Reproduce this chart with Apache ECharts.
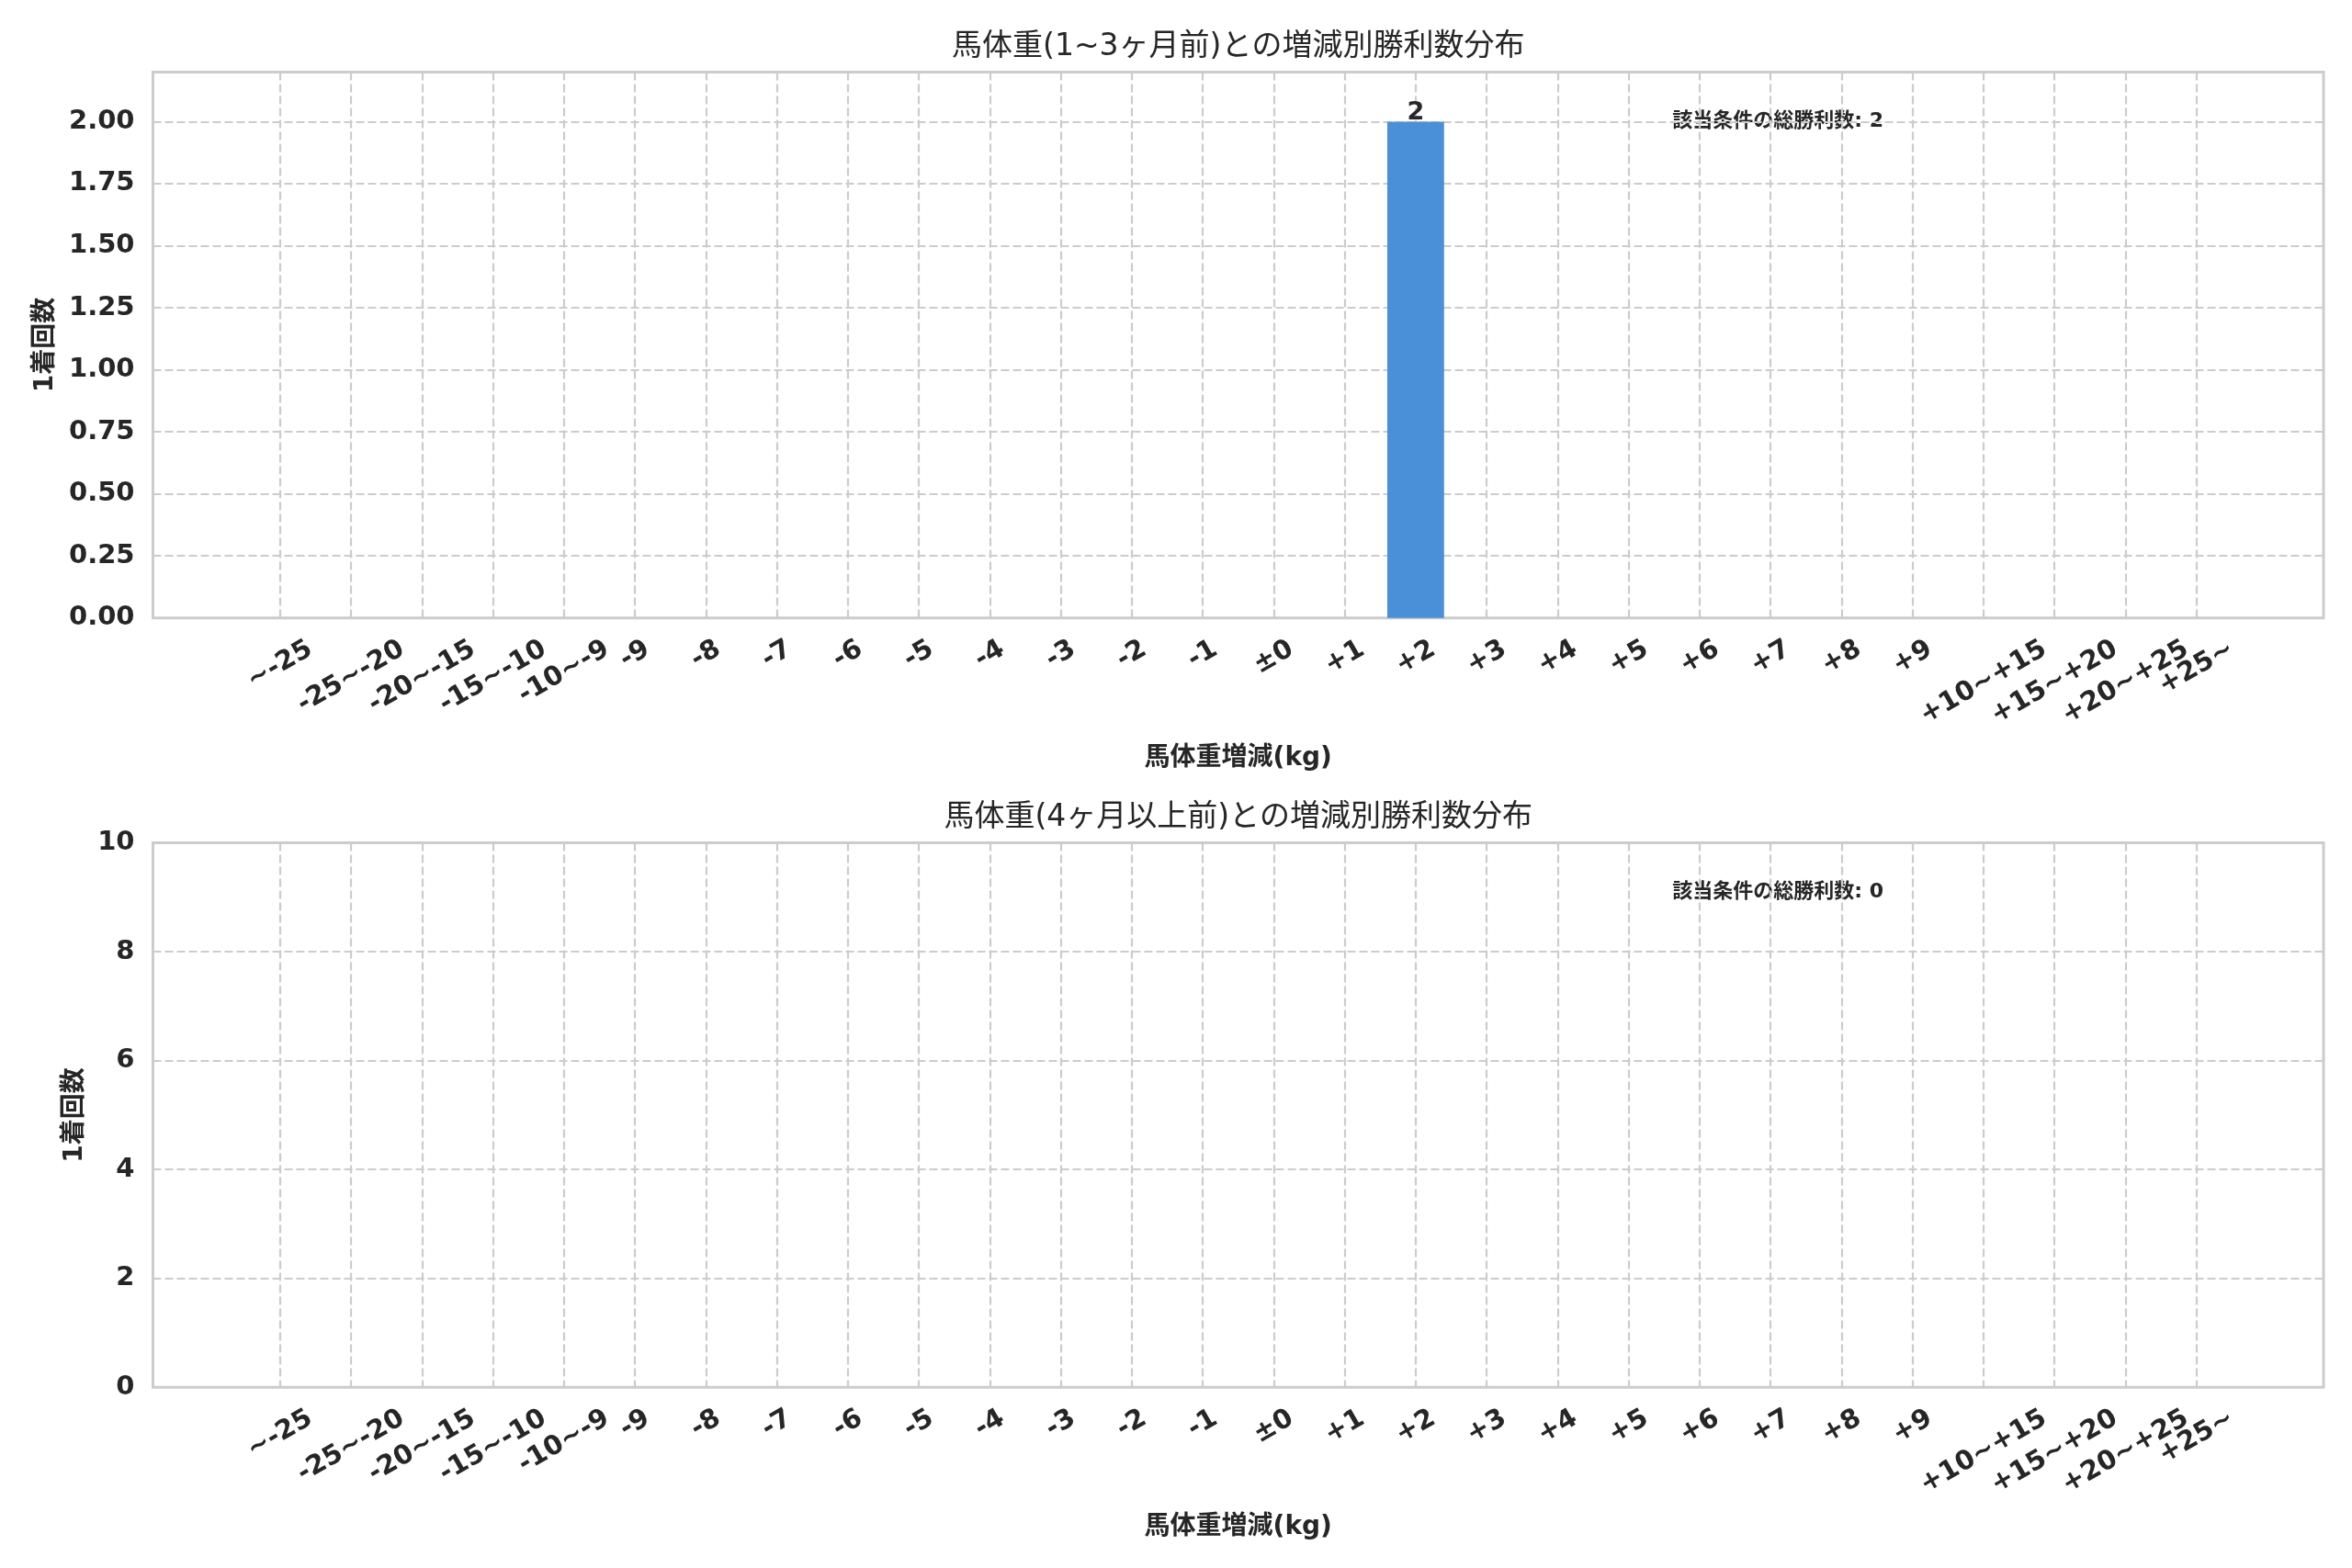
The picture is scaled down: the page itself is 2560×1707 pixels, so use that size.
<!DOCTYPE html>
<html><head><meta charset="utf-8">
<script src="https://cdn.jsdelivr.net/npm/echarts@6/dist/echarts.min.js"></script>
<style>html,body{margin:0;padding:0;background:#fff}#c{width:2560px;height:1707px}</style>
</head><body><div id="c"></div><script>
// ---- data ----
const categories = ['~-25','-25~-20','-20~-15','-15~-10','-10~-9','-9','-8','-7','-6','-5','-4','-3','-2','-1','±0','+1','+2','+3','+4','+5','+6','+7','+8','+9','+10~+15','+15~+20','+20~+25','+25~'];
const winsShort = [0,0,0,0,0,0,0,0,0,0,0,0,0,0,0,0,2,0,0,0,0,0,0,0,0,0,0,0];
const winsLong  = [0,0,0,0,0,0,0,0,0,0,0,0,0,0,0,0,0,0,0,0,0,0,0,0,0,0,0,0];
const titles = ['馬体重(1~3ヶ月前)との増減別勝利数分布', '馬体重(4ヶ月以上前)との増減別勝利数分布'];
const yLabel = '1着回数';
const xLabel = '馬体重増減(kg)';
const totalLabel = '該当条件の総勝利数';
const yScaleTop = [0, 2.2, 0.25];     // min, max, interval
const yScaleBottom = [0, 10, 2];

// ---- layout ----
const FONT = "'DejaVu Sans', 'Noto Sans CJK JP', sans-serif";
const TXT = '#262626';
const TICK_FS = 29;
const L = 166.5, R = 2529, W = R - L;
const lo = -1.79, hi = categories.length - 1 + 1.79;
const u = W / (hi - lo);
const dataLeft = L + (0 - lo) * u;
const dataWidth = (categories.length - 1) * u;
const panels = [{top: 78.4, height: 594.3}, {top: 917.6, height: 592.6}];

const cv = document.createElement('canvas').getContext('2d');
cv.font = 'bold ' + TICK_FS + 'px ' + FONT;
const labelWidths = categories.map(c => cv.measureText(c).width);

const gridLine = {show: true, lineStyle: {color: '#cccccc', width: 2.2, type: [9, 4]}};
const grids = [], xAxes = [], yAxes = [], series = [], graphics = [];
const scales = [yScaleTop, yScaleBottom];
const datas = [winsShort, winsLong];
const yNameGaps = [100, 70];

panels.forEach((p, i) => {
  const g0 = grids.length;
  grids.push({left: L, top: p.top, width: W, height: p.height, show: true, borderColor: '#cccccc', borderWidth: 3, backgroundColor: 'transparent'});
  grids.push({left: dataLeft, top: p.top, width: dataWidth, height: p.height});
  const [mn, mx, iv] = scales[i];
  xAxes.push({gridIndex: g0, type: 'value', min: 0, max: 1, show: false});
  xAxes.push({gridIndex: g0 + 1, type: 'category', data: categories, boundaryGap: false,
    axisLine: {show: false}, axisTick: {show: false}, splitLine: gridLine,
    axisLabel: {show: false},
    name: xLabel, nameLocation: 'middle', nameGap: 139,
    nameTextStyle: {fontSize: 28, fontWeight: 'bold', fontFamily: FONT, color: TXT}});
  yAxes.push({gridIndex: g0, type: 'value', min: mn, max: mx, interval: iv,
    axisLine: {show: false}, axisTick: {show: false}, splitLine: gridLine,
    axisLabel: {margin: 20, fontSize: TICK_FS, fontWeight: 'bold', fontFamily: FONT, color: TXT,
      formatter: v => {
        const k = v / iv;
        if (Math.abs(k - Math.round(k)) > 1e-6) return '';
        return iv < 1 ? v.toFixed(2) : String(Math.round(v));
      }},
    name: yLabel, nameLocation: 'middle', nameRotate: 90, nameGap: yNameGaps[i],
    nameTextStyle: {fontSize: 28, fontWeight: 'bold', fontFamily: FONT, color: TXT}});
  yAxes.push({gridIndex: g0 + 1, type: 'value', min: mn, max: mx, show: false});
  series.push({type: 'bar', xAxisIndex: g0 + 1, yAxisIndex: g0 + 1, data: datas[i],
    barWidth: 0.8 * u, itemStyle: {color: '#4a90d9'},
    label: {show: true, position: 'top', distance: -4, fontSize: 27, fontWeight: 'bold', fontFamily: FONT, color: TXT,
      formatter: q => (q.value > 0 ? String(q.value) : '')}});
  // rotated category tick labels (matplotlib style: rotated 30°, centred under tick)
  series.push({type: 'custom', xAxisIndex: g0 + 1, yAxisIndex: g0 + 1, silent: true, clip: false,
    data: categories.map((c, k) => [k, mn]),
    renderItem: (params, api) => {
      const k = api.value(0);
      const pt = api.coord([k, mn]);
      return {type: 'text', x: pt[0], y: pt[1] + 32 + 0.25 * labelWidths[k], rotation: Math.PI / 6,
        style: {text: categories[k], fontSize: TICK_FS, fontWeight: 'bold', fontFamily: FONT, fill: TXT,
          align: 'center', verticalAlign: 'middle'}};
    }});
  // title
  graphics.push({type: 'text', x: L + W / 2, y: p.top - 27, style: {text: titles[i], fontSize: 33, fontFamily: FONT, fill: TXT, align: 'center', verticalAlign: 'middle'}});
  // total annotation at axes fraction (0.7, 0.9)
  const total = datas[i].reduce((a, b) => a + b, 0);
  graphics.push({type: 'text', x: L + 0.7 * W, y: p.top + 0.1 * p.height + 5, style: {text: totalLabel + ': ' + total, fontSize: 22, fontWeight: 'bold', fontFamily: FONT, fill: TXT, align: 'left', verticalAlign: 'bottom'}});
});

const chart = echarts.init(document.getElementById('c'), null, {renderer: 'canvas'});
chart.setOption({
  animation: false,
  backgroundColor: '#ffffff',
  grid: grids.map(g => Object.assign({outerBoundsMode: 'none', containLabel: false}, g)),
  xAxis: xAxes, yAxis: yAxes, series: series, graphic: graphics
});
</script></body></html>
